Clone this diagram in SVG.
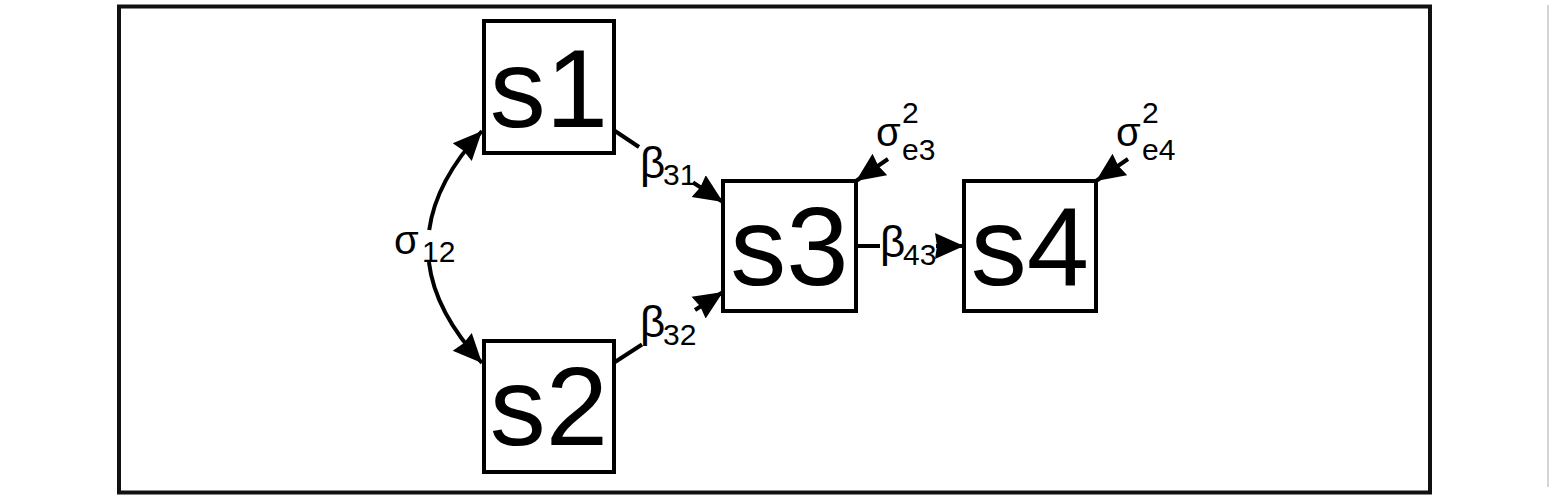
<svg xmlns="http://www.w3.org/2000/svg" width="1555" height="502" viewBox="0 0 1555 502">
<style>
.frame{fill:none;stroke:#111;stroke-width:4}
.box{fill:#fff;stroke:#000;stroke-width:4}
.big{font-family:"Liberation Sans",Arial,sans-serif;font-size:112px;text-anchor:middle;fill:#000}
.lbl{font-family:"Liberation Sans",Arial,sans-serif;fill:#000}
.g1{font-size:44px}
.g2{font-size:40px}
.sub{font-size:30px}
.c{fill:none;stroke:#000;stroke-width:4}
.ca{fill:none;stroke:#000;stroke-width:4;marker-end:url(#ah)}
</style>
<defs>
<marker id="ah" markerUnits="userSpaceOnUse" viewBox="0 0 30 28" markerWidth="30" markerHeight="28" refX="29" refY="14" orient="auto">
<path d="M0,1 L29,14 L0,27 L2,14 z" fill="#000"/>
</marker>
</defs>
<rect width="1555" height="502" fill="#fff"/>
<rect class="frame" x="119" y="6.5" width="1311" height="486"/>
<line x1="1548" y1="5" x2="1548" y2="487" stroke="#aaa" stroke-width="1"/>
<g id="connectors">
<path class="ca" d="M429.2,230.1 Q435.9,180.5 482,131"/>
<path class="ca" d="M428.9,262.1 Q435,312.5 482,363"/>
<line class="c" x1="615" y1="131" x2="639" y2="147"/>
<line class="ca" x1="693" y1="182.5" x2="723" y2="202"/>
<line class="c" x1="615" y1="362" x2="642" y2="344.5"/>
<line class="ca" x1="695" y1="310" x2="723" y2="292"/>
<line class="c" x1="856" y1="246" x2="880" y2="246"/>
<line class="ca" x1="936" y1="246" x2="964" y2="246"/>
<line class="ca" x1="888" y1="159" x2="856" y2="181"/>
<line class="ca" x1="1128" y1="159" x2="1096" y2="181"/>
<text class="lbl"><tspan class="g2" x="394" y="254">σ</tspan><tspan class="sub" x="422" y="262">12</tspan></text>
<text class="lbl"><tspan class="g1" x="640" y="178">β</tspan><tspan class="sub" x="663" y="185">31</tspan></text>
<text class="lbl"><tspan class="g1" x="640" y="337">β</tspan><tspan class="sub" x="663" y="345">32</tspan></text>
<text class="lbl"><tspan class="g1" x="880" y="257">β</tspan><tspan class="sub" x="903" y="265">43</tspan></text>
<text class="lbl"><tspan class="g2" x="876" y="146">σ</tspan><tspan class="sub" x="902" y="123">2</tspan><tspan class="sub" x="902" y="160">e3</tspan></text>
<text class="lbl"><tspan class="g2" x="1116" y="146">σ</tspan><tspan class="sub" x="1142" y="123">2</tspan><tspan class="sub" x="1142" y="160">e4</tspan></text>
</g>
<g id="s1">
<rect class="box" x="484" y="21" width="130" height="132"/>
<text class="big" x="549" y="127">s1</text>
</g>
<g id="s2">
<rect class="box" x="484" y="341" width="130" height="131"/>
<text class="big" x="549" y="445">s2</text>
</g>
<g id="s3">
<rect class="box" x="723" y="181" width="133" height="130"/>
<text class="big" x="789.5" y="285">s3</text>
</g>
<g id="s4">
<rect class="box" x="964" y="181" width="132" height="130"/>
<text class="big" x="1030" y="285">s4</text>
</g>
</svg>
